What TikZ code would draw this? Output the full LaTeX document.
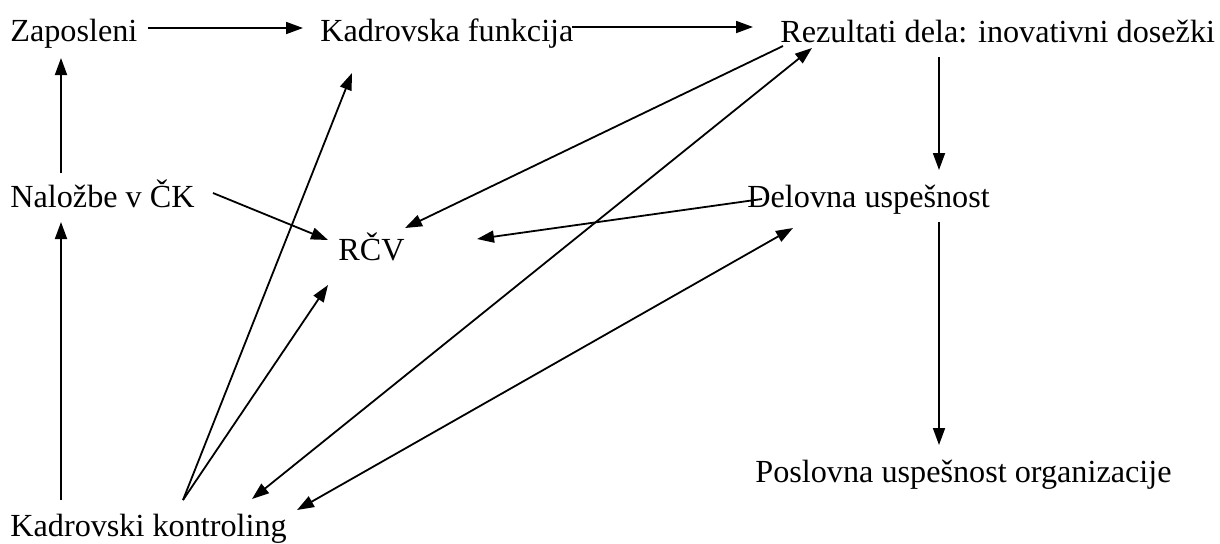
\documentclass[tikz,border=0pt]{standalone}
\usepackage{fontspec}
\setmainfont{Liberation Serif}
\usetikzlibrary{arrows.meta,calc}

\begin{document}
\begin{tikzpicture}[
    x=0.5pt, y=-0.5pt,
    font=\fontsize{16.1}{19}\selectfont,
    lbl/.style={inner sep=0pt, anchor=base west},
    arrow/.style={-{Triangle[length=8.5pt,width=6pt]}, line width=0.9pt},
    twoway/.style={{Triangle[length=8.5pt,width=6pt]}-{Triangle[length=8.5pt,width=6pt]}, line width=0.9pt}
]
\useasboundingbox (0,0) rectangle (1220,543);

% --- top row ---
\node[lbl] (zaposleni) at (10,41)  {Zaposleni};
\node[lbl] (kadrovska) at (320,41) {Kadrovska funkcija};
\node[lbl] (rezultati) at (780,42) {Rezultati dela: inovativni dosežki};

% --- middle ---
\node[lbl] (nalozbe)  at (10,207)  {Naložbe v ČK};
\node[lbl] (rcv)      at (338,260) {RČV};
\node[lbl] (delovna)  at (747,207) {Delovna uspešnost};

% --- bottom ---
\node[lbl] (poslovna)   at (755,482) {Poslovna uspešnost organizacije};
\node[lbl] (kontroling) at (10,536)  {Kadrovski kontroling};

% left column and top row
\draw[arrow] ($(kontroling.base west)+(51,-36)$) -- ($(nalozbe.base west)+(51,15)$);
\draw[arrow] ($(nalozbe.base west)+(51,-34)$) -- ($(zaposleni.base west)+(51,17)$);
\draw[arrow] ($(zaposleni.base west)+(138,-13)$) -- ($(kadrovska.base west)+(-17,-13)$);
\draw[arrow] ($(kadrovska.base west)+(252,-14)$) -- ($(rezultati.base west)+(-27,-15)$);

% right column
\draw[arrow] ($(rezultati.base west)+(159,15)$) -- ($(delovna.base west)+(192,-37)$);
\draw[arrow] ($(delovna.base west)+(192,15)$) -- ($(poslovna.base west)+(184,-37)$);

% into RCV
\draw[arrow] ($(nalozbe.base west)+(203,-14)$) -- ($(rcv.base west)+(-10,-20)$);
\draw[arrow] ($(rezultati.base west)+(3,4)$) -- ($(rcv.base west)+(67,-32)$);
\draw[arrow] ($(delovna.base west)+(15,-8)$) -- ($(rcv.base west)+(139,-21)$);

% from kadrovski kontroling
\draw[arrow] ($(kontroling.base west)+(173,-36)$) -- ($(kadrovska.base west)+(32,32)$);
\draw[arrow] ($(kontroling.base west)+(173,-36)$) -- ($(rcv.base west)+(-10,25)$);
\draw[twoway] ($(kontroling.base west)+(242,-37)$) -- ($(rezultati.base west)+(32,6)$);
\draw[twoway] ($(kontroling.base west)+(287,-26)$) -- ($(delovna.base west)+(46,21)$);

\end{tikzpicture}
\end{document}
